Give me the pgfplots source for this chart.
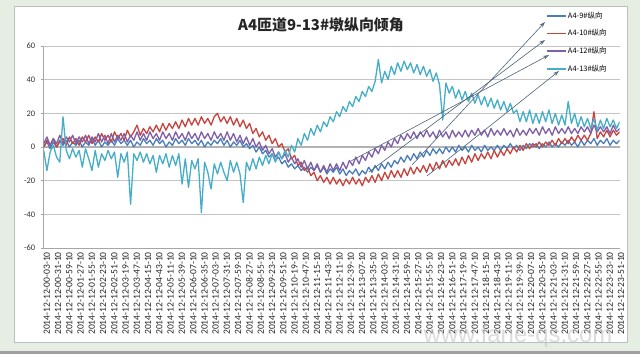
\documentclass[border=0pt]{standalone}
\usepackage{pgfplots}
\pgfplotsset{compat=1.18}
\usepackage{pgfplotstable}
\usetikzlibrary{arrows.meta}
\usepackage{fontspec}
\setmainfont{Carlito}
\newfontfamily\cjk{Noto Sans CJK SC}
\newfontfamily\wmfont{Liberation Sans}
\definecolor{cA}{HTML}{4A7EBB}
\definecolor{cB}{HTML}{C8443F}
\definecolor{cC}{HTML}{7F5FA8}
\definecolor{cD}{HTML}{46AEC9}
\definecolor{arrowc}{HTML}{4E6478}
\definecolor{bgc}{HTML}{E6EEE3}
\definecolor{framec}{HTML}{BEBEBE}
\definecolor{gridc}{HTML}{C4C4C4}
\pgfplotstableread{
m b r p c
0 0 0 2 -2
8 3 4 6 -14
16 -1 1 1 -3
24 3 5 5 1
32 0 0 2 -6
40 4 3 7 -9
48 1 5 2 18
56 4 1 6 -2
64 0 6 3 -7
72 3 2 7 -1
80 1 5 2 -6
88 4 1 6 -2
96 0 6 3 -12
104 3 3 7 -1
112 1 7 2 -7
120 5 2 6 -14
128 1 6 3 -2
136 4 3 8 -12
144 0 8 3 -4
152 3 4 7 -8
160 1 7 2 -2
168 4 3 8 -7
176 1 9 3 -3
184 5 5 7 -18
192 2 8 4 -4
200 4 4 8 -9
208 1 10 3 -3
216 4 6 7 -34
224 0 9 4 -4
232 3 13 9 -8
240 1 7 4 -3
248 5 11 8 -9
256 2 8 4 -4
264 4 12 9 -10
272 1 9 5 -5
280 5 13 8 -15
288 2 9 4 -5
296 4 14 9 -10
304 0 10 5 -4
312 3 14 8 -12
320 1 11 4 -5
328 5 15 9 -11
336 2 11 5 -4
344 4 16 8 -22
352 1 12 4 -7
360 5 17 9 -24
368 2 13 5 -8
376 4 17 8 -13
384 1 13 4 -7
392 4 18 9 -39
400 0 14 5 -9
408 3 17 8 -15
416 1 13 4 -25
424 4 18 9 -10
432 2 20 5 -16
440 5 15 8 -9
448 1 18 4 -15
456 4 14 9 -20
464 0 18 4 -8
472 3 13 8 -15
480 1 17 3 -9
488 4 12 7 -16
496 0 16 2 -33
504 2 11 6 -9
512 -1 14 1 -14
520 1 8 5 -7
528 -3 11 0 -13
536 0 6 3 -6
544 -4 9 -2 -11
552 -2 4 1 -5
560 -6 7 -4 -10
568 -4 2 -1 -4
576 -8 5 -6 -9
584 -6 0 -3 -3
592 -10 2 -7 -7
600 -8 -3 -4 -2
608 -12 -1 -9 -6
616 -10 -7 -6 1
624 -13 -5 -10 -3
632 -11 -11 -7 5
640 -14 -9 -12 1
648 -12 -14 -8 8
656 -15 -12 -13 4
664 -12 -17 -9 11
672 -14 -15 -14 7
680 -11 -20 -10 13
688 -15 -17 -15 9
696 -12 -21 -11 15
704 -16 -18 -15 12
712 -13 -22 -10 18
720 -15 -18 -14 15
728 -12 -22 -10 21
736 -16 -19 -14 18
744 -13 -23 -9 24
752 -17 -19 -13 21
760 -14 -22 -8 27
768 -16 -18 -11 24
776 -13 -22 -6 30
784 -17 -19 -10 27
792 -14 -23 -5 33
800 -16 -18 -8 30
808 -12 -21 -3 36
816 -15 -17 -6 33
824 -11 -21 -1 39
832 -14 -16 -4 52
840 -10 -20 1 38
848 -13 -15 -2 45
856 -9 -19 3 40
864 -12 -14 0 48
872 -8 -18 5 43
880 -10 -14 2 50
888 -6 -18 7 45
896 -9 -13 4 51
904 -5 -17 8 46
912 -8 -12 5 50
920 -4 -16 9 44
928 -7 -12 5 49
936 -3 -15 9 43
944 -6 -11 6 48
952 -2 -15 10 42
960 -5 -10 6 46
968 -1 -14 9 39
976 -4 -9 5 44
984 -1 -13 10 37
992 -4 -8 6 16
1000 0 -12 9 38
1008 -3 -8 5 32
1016 0 -11 10 36
1024 -3 -7 6 29
1032 1 -11 9 34
1040 -2 -6 6 28
1048 0 -10 10 33
1056 -3 -5 6 27
1064 1 -9 10 32
1072 -2 -4 7 26
1080 0 -8 11 31
1088 -3 -4 7 25
1096 1 -7 10 30
1104 -2 -3 6 24
1112 0 -7 11 29
1120 -2 -2 7 23
1128 1 -6 10 28
1136 -2 -2 7 22
1144 1 -5 11 27
1152 -1 -1 7 21
1160 2 -4 10 26
1168 -1 0 6 20
1176 1 -3 11 22
1184 -2 1 7 15
1192 1 -2 10 21
1200 -1 2 7 15
1208 2 -1 11 22
1216 0 2 8 14
1224 2 0 11 20
1232 -1 3 7 14
1240 2 0 12 21
1248 0 3 8 15
1256 3 1 11 22
1264 0 4 7 14
1272 2 1 12 20
1280 0 5 8 13
1288 3 2 11 19
1296 1 5 8 13
1304 4 2 12 27
1312 1 6 8 14
1320 3 3 11 20
1328 0 7 8 12
1336 4 4 12 18
1344 1 7 9 12
1352 4 4 12 17
1360 2 8 8 11
1368 5 21 13 17
1376 1 5 9 10
1384 4 9 12 16
1392 2 6 9 11
1400 5 10 12 17
1408 1 6 8 12
1416 4 10 13 16
1424 2 7 9 11
1432 4 9 11 15
}\data

\begin{document}
\begin{tikzpicture}
\fill[bgc] (0bp,0bp) rectangle (640bp,354bp);
\fill[gray!75] (0bp,0bp) rectangle (640bp,3bp);
\filldraw[fill=white, draw=framec, line width=1bp] (14bp,11bp) rectangle (627bp,347bp);
\begin{axis}[
  at={(43.7bp,106bp)}, anchor=south west,
  scale only axis, width=576bp, height=202bp,
  xmin=0, xmax=1432, ymin=-60, ymax=60,
  enlargelimits=false,
  axis y line*=left, axis x line*=bottom,
  axis line style={-, draw=gray!70, line width=0.8bp},
  ytick={-60,-40,-20,0,20,40,60},
  yticklabels={{-60},{-40},{-20},{0},{20},{40},{60}},
  yticklabel style={font=\fontsize{8.5}{10}\selectfont, text=black!80, xshift=-2bp},
  ymajorgrids, grid style={draw=gridc, line width=0.8bp},
  extra y ticks={0}, extra y tick labels={},
  extra y tick style={grid style={draw=gray!60, line width=2bp}, major tick length=0pt},
  ytick style={draw=gray!70, line width=0.6bp},
  major tick length=3bp, tick align=outside,
  xtick={0,28,...,1428},
  xticklabels={2014-12-12-00-03-10,2014-12-12-00-31-10,2014-12-12-00-59-10,2014-12-12-01-27-10,2014-12-12-01-55-10,2014-12-12-02-23-10,2014-12-12-02-51-10,2014-12-12-03-19-10,2014-12-12-03-47-10,2014-12-12-04-15-10,2014-12-12-04-43-10,2014-12-12-05-11-10,2014-12-12-05-39-10,2014-12-12-06-07-10,2014-12-12-06-35-10,2014-12-12-07-03-10,2014-12-12-07-31-10,2014-12-12-07-59-10,2014-12-12-08-27-10,2014-12-12-08-55-10,2014-12-12-09-23-10,2014-12-12-09-51-10,2014-12-12-10-19-10,2014-12-12-10-47-10,2014-12-12-11-15-10,2014-12-12-11-43-10,2014-12-12-12-11-10,2014-12-12-12-39-10,2014-12-12-13-07-10,2014-12-12-13-35-10,2014-12-12-14-03-10,2014-12-12-14-31-10,2014-12-12-14-59-10,2014-12-12-15-27-10,2014-12-12-15-55-10,2014-12-12-16-23-10,2014-12-12-16-51-10,2014-12-12-17-19-10,2014-12-12-17-47-10,2014-12-12-18-15-10,2014-12-12-18-43-10,2014-12-12-19-11-10,2014-12-12-19-39-10,2014-12-12-20-07-10,2014-12-12-20-35-10,2014-12-12-21-03-10,2014-12-12-21-31-10,2014-12-12-21-59-10,2014-12-12-22-27-10,2014-12-12-22-55-10,2014-12-12-23-23-10,2014-12-12-23-51-10},
  xticklabel style={rotate=90, anchor=east, font=\fontsize{9.6}{10}\selectfont, text=black!85, inner sep=1bp, yshift=-3bp},
  xtick style={draw=none},
  legend style={at={(0.872,1.173)}, anchor=north west, draw=none, fill=none,
    font=\cjk\fontsize{7.5}{8}\selectfont, row sep=8.7bp, inner sep=0pt,
    nodes={inner sep=1bp, text height=6bp, text depth=1bp}},
  legend cell align=left,
  legend image code/.code={\draw[#1, line width=1.8bp] (0bp,0bp) -- (19bp,0bp);},
  every axis plot/.append style={line width=1.3bp, line join=round, mark=none},
]
\addplot[cA] table[x=m, y=b] {\data};
\addlegendentry{A4-9\#纵向}
\addplot[cB] table[x=m, y=r] {\data};
\addlegendentry{A4-10\#纵向}
\addplot[cC] table[x=m, y=p] {\data};
\addlegendentry{A4-12\#纵向}
\addplot[cD] table[x=m, y=c] {\data};
\addlegendentry{A4-13\#纵向}
\end{axis}
\node[font=\cjk\bfseries\fontsize{15}{18}\selectfont, text=black!85] at (321bp,329bp) {A4匝道9-13\#墩纵向倾角};
\begin{scope}[arrowc, line width=0.6bp, -{Stealth[length=6bp,width=4bp,open]}]
\draw (412bp,189bp) -- (545bp,332bp);
\draw (369bp,182bp) -- (545bp,314bp);
\draw (351bp,193bp) -- (549bp,299bp);
\draw (427bp,178bp) -- (559bp,283bp);
\end{scope}
\node[font=\wmfont\fontsize{24}{26}\selectfont, text=gray!45, opacity=0.6] at (518bp,18bp) {www.fane-qs.com};
\pgfresetboundingbox
\useasboundingbox (0bp,0bp) rectangle (640bp,354bp);
\end{tikzpicture}
\end{document}
